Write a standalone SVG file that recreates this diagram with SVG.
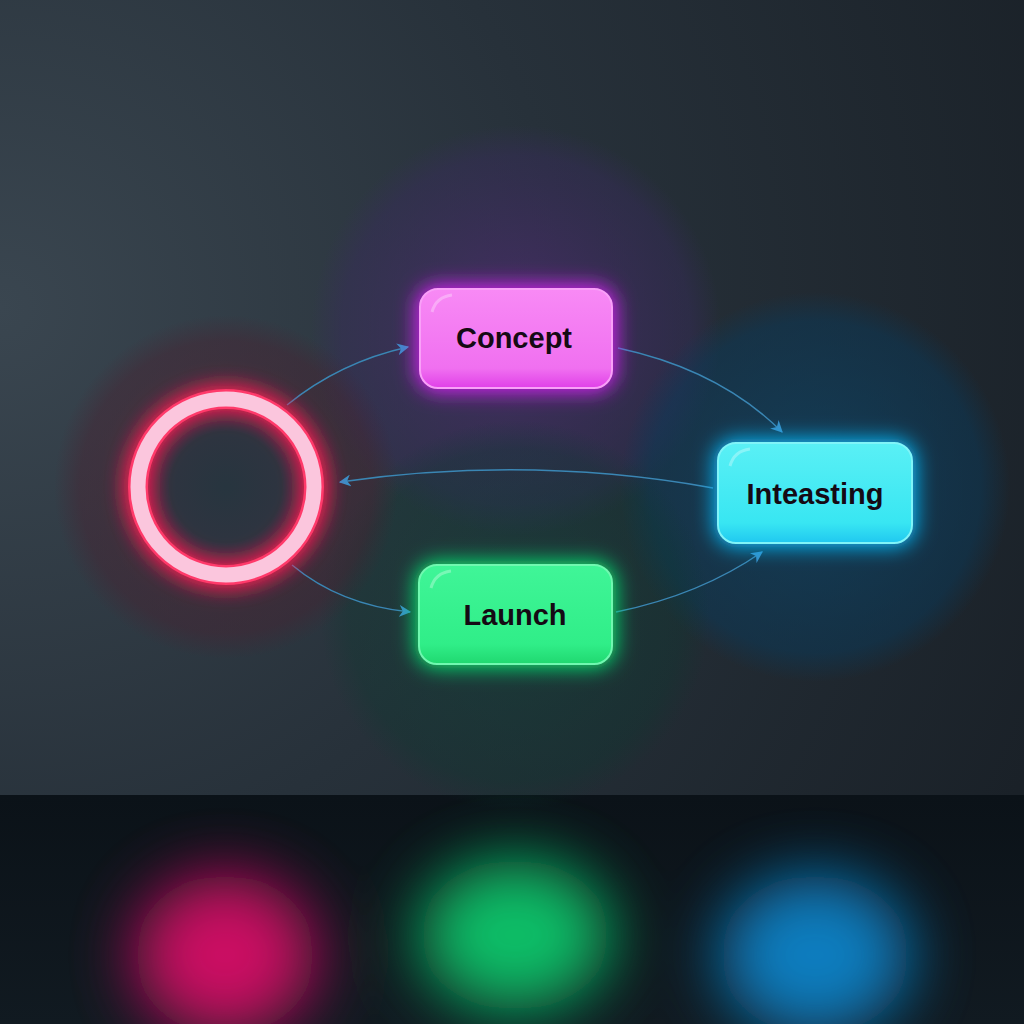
<svg xmlns="http://www.w3.org/2000/svg" width="1024" height="1024" viewBox="0 0 1024 1024">
<defs>
<radialGradient id="bg" cx="0" cy="0.3" r="1.1">
<stop offset="0" stop-color="#3a4650"/>
<stop offset="0.5" stop-color="#27313a"/>
<stop offset="1" stop-color="#1a2128"/>
</radialGradient>
<linearGradient id="floor" x1="0" y1="0" x2="0" y2="1">
<stop offset="0" stop-color="#0b1218"/>
<stop offset="1" stop-color="#111a21"/>
</linearGradient>
<radialGradient id="haloP"><stop offset="0" stop-color="#5a2a80" stop-opacity="0.6"/><stop offset="0.85" stop-color="#3a2a60" stop-opacity="0.4"/><stop offset="1" stop-color="#3a2a60" stop-opacity="0"/></radialGradient>
<radialGradient id="haloB"><stop offset="0" stop-color="#0a4a70" stop-opacity="0.6"/><stop offset="0.85" stop-color="#0a3a5a" stop-opacity="0.5"/><stop offset="1" stop-color="#0a3a5a" stop-opacity="0"/></radialGradient>
<radialGradient id="haloR"><stop offset="0" stop-color="#5a2030" stop-opacity="0.5"/><stop offset="0.85" stop-color="#4a2030" stop-opacity="0.4"/><stop offset="1" stop-color="#4a2030" stop-opacity="0"/></radialGradient>
<radialGradient id="haloG"><stop offset="0" stop-color="#0a4a3a" stop-opacity="0.4"/><stop offset="0.85" stop-color="#0a3a30" stop-opacity="0.3"/><stop offset="1" stop-color="#0a3a30" stop-opacity="0"/></radialGradient>
<radialGradient id="ringIn"><stop offset="0" stop-color="#27353f"/><stop offset="0.7" stop-color="#2e3440"/><stop offset="1" stop-color="#5a2a40"/></radialGradient>
<linearGradient id="gP" x1="0" y1="0" x2="0" y2="1"><stop offset="0" stop-color="#f88af5"/><stop offset="0.8" stop-color="#f070f0"/><stop offset="1" stop-color="#e040e8"/></linearGradient>
<linearGradient id="gB" x1="0" y1="0" x2="0" y2="1"><stop offset="0" stop-color="#5af0f5"/><stop offset="0.8" stop-color="#38e6f2"/><stop offset="1" stop-color="#20c8f0"/></linearGradient>
<linearGradient id="gG" x1="0" y1="0" x2="0" y2="1"><stop offset="0" stop-color="#40f598"/><stop offset="0.8" stop-color="#30ee88"/><stop offset="1" stop-color="#20d870"/></linearGradient>
<filter id="glow" x="-50%" y="-50%" width="200%" height="200%"><feGaussianBlur stdDeviation="10"/></filter>
<filter id="refl" x="-50%" y="-50%" width="200%" height="200%"><feGaussianBlur stdDeviation="32"/></filter>
<marker id="arr" viewBox="0 0 10 10" refX="9" refY="5" markerWidth="12" markerHeight="12" markerUnits="userSpaceOnUse" orient="auto"><path d="M0,0 L10,5 L0,10 L3,5 Z" fill="#3a8fc8"/></marker>
<style>
.lbl{font-family:"Liberation Sans",Arial,sans-serif;font-weight:bold;font-size:29px;fill:#150a14;text-anchor:middle;dominant-baseline:central}
.conn{fill:none;stroke:#3a86b4;stroke-width:1.5;marker-end:url(#arr)}
.hi{fill:none;stroke:#ffffff;stroke-opacity:0.3;stroke-width:3}
</style>
</defs>
<rect width="1024" height="1024" fill="url(#bg)"/>
<rect y="795" width="1024" height="229" fill="url(#floor)"/>
<circle cx="516" cy="330" r="205" fill="url(#haloP)"/>
<circle cx="815" cy="487" r="195" fill="url(#haloB)"/>
<circle cx="515" cy="615" r="195" fill="url(#haloG)"/>
<circle cx="226" cy="487" r="172" fill="url(#haloR)"/>
<g filter="url(#refl)" opacity="0.9">
<ellipse cx="225" cy="955" rx="90" ry="80" fill="#e0106a"/>
<ellipse cx="515" cy="935" rx="95" ry="75" fill="#10d070"/>
<ellipse cx="815" cy="955" rx="95" ry="80" fill="#0a88d0"/>
</g>
<g id="connectors">
<path class="conn" d="M287,405 Q340,362 408,347"/>
<path class="conn" d="M618,348 Q720,370 782,432"/>
<path class="conn" d="M713,488 Q530,455 340,482"/>
<path class="conn" d="M292,565 Q340,605 410,612"/>
<path class="conn" d="M616,612 Q700,595 762,552"/>
</g>
<g id="node-start">
<circle cx="226" cy="487" r="80" fill="url(#ringIn)"/>
<circle cx="226" cy="487" r="89" fill="none" stroke="#ff1a55" stroke-width="26" filter="url(#glow)"/>
<circle cx="226" cy="487" r="88" fill="none" stroke="#ff3a6a" stroke-width="20"/>
<circle cx="226" cy="487" r="88" fill="none" stroke="#fbc6dd" stroke-width="15"/>
</g>
<g id="node-concept">
<rect x="416" y="285" width="200" height="107" rx="22" fill="#d020f0" filter="url(#glow)"/>
<rect x="420" y="289" width="192" height="99" rx="18" fill="url(#gP)" stroke="#f9a0f8" stroke-width="2"/>
<path class="hi" d="M432,312 Q436,297 452,295"/>
<text class="lbl" x="514" y="338">Concept</text>
</g>
<g id="node-inteasting">
<rect x="714" y="439" width="202" height="108" rx="22" fill="#10b8f8" filter="url(#glow)"/>
<rect x="718" y="443" width="194" height="100" rx="18" fill="url(#gB)" stroke="#80f4f8" stroke-width="2"/>
<path class="hi" d="M730,466 Q734,451 750,449"/>
<text class="lbl" x="815" y="494">Inteasting</text>
</g>
<g id="node-launch">
<rect x="415" y="561" width="201" height="107" rx="22" fill="#10e070" filter="url(#glow)"/>
<rect x="419" y="565" width="193" height="99" rx="18" fill="url(#gG)" stroke="#70f8b0" stroke-width="2"/>
<path class="hi" d="M431,588 Q435,573 451,571"/>
<text class="lbl" x="515" y="615">Launch</text>
</g>
</svg>
